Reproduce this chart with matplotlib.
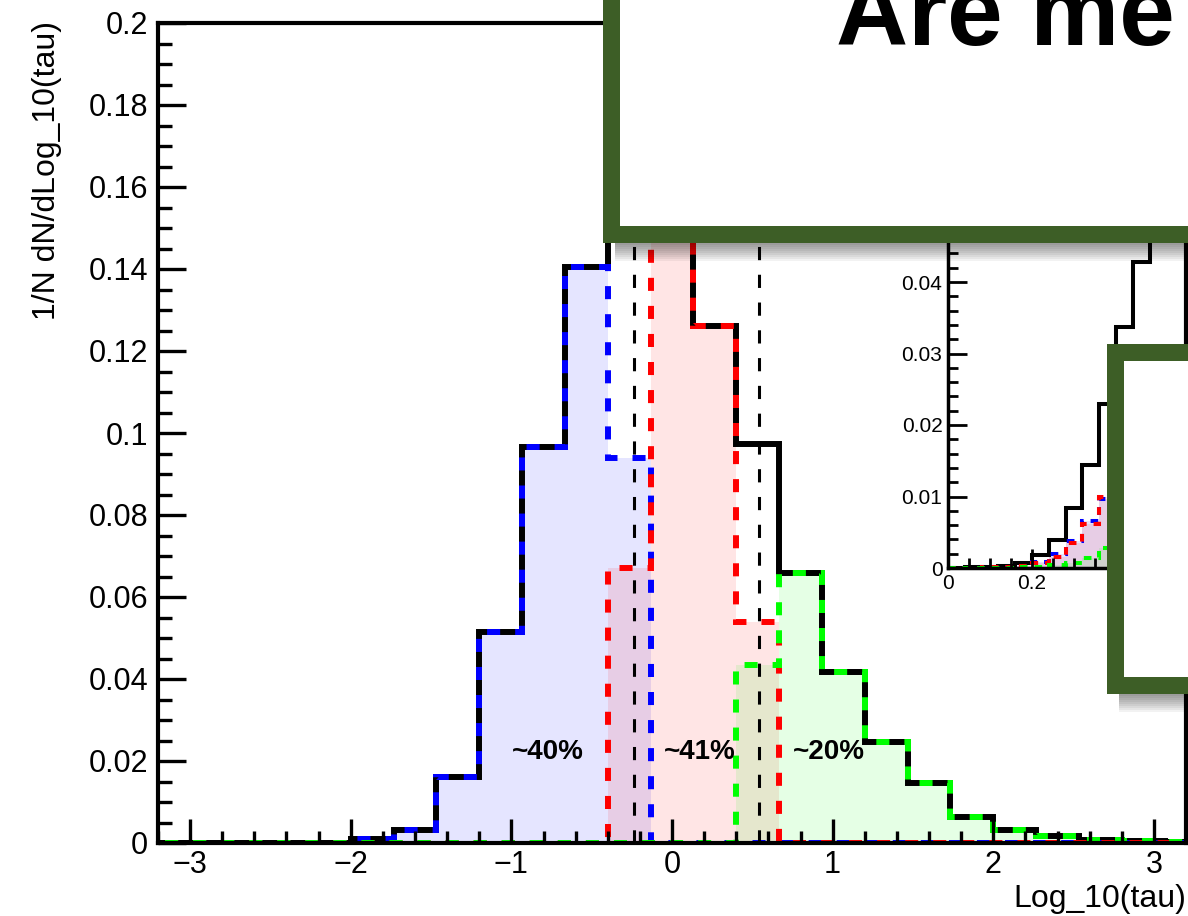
import numpy as np
import matplotlib
matplotlib.use("Agg")
import matplotlib.pyplot as plt
from matplotlib.patches import Rectangle
from matplotlib.ticker import MultipleLocator, FuncFormatter

plt.rcParams['font.family'] = ['Liberation Sans', 'DejaVu Sans']
plt.rcParams['lines.scale_dashes'] = False

# main histogram, log10(tau), 25 bins of width 4/15
edges = np.linspace(-10 / 3, 10 / 3, 26)
all_h = [0, 0, 0, 0, 0, 0.001, 0.0032, 0.016, 0.0515, 0.0966, 0.1405, 0.161, 0.163,
         0.126, 0.0973, 0.0659, 0.0417, 0.0246, 0.0146, 0.0063, 0.0032, 0.0017, 0.0008,
         0.0004, 0.0003]
blue_h = [0, 0, 0, 0, 0, 0.001, 0.0032, 0.016, 0.0515, 0.0966, 0.1405, 0.094, 0,
          0, 0, 0, 0, 0, 0, 0, 0, 0, 0, 0, 0]
red_h = [0, 0, 0, 0, 0, 0, 0, 0, 0, 0, 0, 0.067, 0.163,
         0.126, 0.054, 0, 0, 0, 0, 0, 0, 0, 0, 0, 0]
green_h = [0, 0, 0, 0, 0, 0, 0, 0, 0, 0, 0, 0, 0,
           0, 0.0435, 0.0659, 0.0417, 0.0246, 0.0146, 0.0063, 0.0032, 0.0017, 0.0008,
           0.0004, 0.0003]
cuts = [-0.235, 0.54]
fractions = ["~40%", "~41%", "~20%"]
frac_x = [-0.772, 0.174, 0.978]

# inset histogram, 15 bins of width 0.04
ins_edges = np.linspace(0, 0.6, 16)
ins_all = [0, 0.0001, 0.0002, 0.0003, 0.0007, 0.0018, 0.0039, 0.0084, 0.0144, 0.023,
           0.0337, 0.0428, 0.052, 0.06, 0.066]
ins_blue = [0, 0, 0.0001, 0.0001, 0.0003, 0.0009, 0.002, 0.0038, 0.0066, 0.0097,
            0.014, 0.018, 0.022, 0.026, 0.029]
ins_red = [0, 0, 0.0001, 0.0002, 0.0003, 0.0007, 0.0015, 0.0035, 0.0062, 0.0099,
           0.015, 0.019, 0.023, 0.027, 0.029]
ins_green = [0, 0, 0, 0, 0.0001, 0.0002, 0.0004, 0.0007, 0.0014, 0.0028,
             0.0045, 0.006, 0.007, 0.008, 0.009]
ins_xticks = [0, 0.2]

W, H = 1188, 916
fig = plt.figure(figsize=(W / 100, H / 100), dpi=100)

def px_rect(x0, y0, x1, y1):
    # pixel box (top-left origin) -> figure fraction rect
    return [x0 / W, (H - y1) / H, (x1 - x0) / W, (y1 - y0) / H]

def fmt(v, pos):
    return "%g" % round(v, 4)

# ---- main plot
ax = fig.add_axes(px_rect(158, 23, 1186, 843))
for vals, col in [(blue_h, 'blue'), (red_h, 'red'), (green_h, 'lime')]:
    ax.stairs(vals, edges, fill=True, color=col, alpha=0.1, lw=0)
ax.stairs(all_h, edges, color='black', lw=4.3)
dash = (0, (9.4, 10.8))
ax.stairs(blue_h, edges, color='blue', lw=4.3, linestyle=dash)
ax.stairs(red_h, edges, color='red', lw=4.3, linestyle=dash)
ax.stairs(green_h, edges, color='lime', lw=4.3, linestyle=dash)
for c in cuts:
    ax.plot([c, c], [0, 0.2], color='black', lw=2.2, linestyle=(0, (9.5, 10.5)))
for t, x in zip(fractions, frac_x):
    ax.text(x, 0.0222, t, ha='center', va='center', fontsize=20, fontweight='bold')

ax.set_xlim(-3.2, 3.2)
ax.set_ylim(0, 0.2)
ax.xaxis.set_major_locator(MultipleLocator(1))
ax.xaxis.set_minor_locator(MultipleLocator(0.2))
ax.yaxis.set_major_locator(MultipleLocator(0.02))
ax.yaxis.set_minor_locator(MultipleLocator(0.005))
ax.yaxis.set_major_formatter(FuncFormatter(fmt))
ax.tick_params(which='both', direction='in', top=False, right=False, width=2.4,
               labelsize=22)
ax.tick_params(axis='y', which='major', length=20, pad=7)
ax.tick_params(axis='y', which='minor', length=10)
ax.tick_params(axis='x', which='major', length=17, pad=5)
ax.tick_params(axis='x', which='minor', length=8.5)
for s in ax.spines.values():
    s.set_linewidth(3)

# ---- inset (its right part sits under the second slide box)
ins = fig.add_axes(px_rect(948, 230, 1170, 568))
for vals, col in [(ins_blue, 'blue'), (ins_red, 'red'), (ins_green, 'lime')]:
    ins.stairs(vals, ins_edges, fill=True, color=col, alpha=0.1, lw=0)
ins.stairs(ins_all, ins_edges, color='black', lw=2.9)
idash = (0, (5.5, 5))
ins.stairs(ins_blue, ins_edges, color='blue', lw=2.9, linestyle=idash)
ins.stairs(ins_red, ins_edges, color='red', lw=2.9, linestyle=idash)
ins.stairs(ins_green, ins_edges, color='lime', lw=2.9, linestyle=idash)
ins.set_xlim(0, 222 / 420)
ins.set_ylim(0, 338 / 7150)
ins.set_xticks(ins_xticks)
ins.xaxis.set_minor_locator(MultipleLocator(0.05))
ins.yaxis.set_major_locator(MultipleLocator(0.01))
ins.yaxis.set_minor_locator(MultipleLocator(0.002))
ins.xaxis.set_major_formatter(FuncFormatter(fmt))
ins.yaxis.set_major_formatter(FuncFormatter(fmt))
ins.tick_params(which='both', direction='in', top=False, right=False, width=2,
                labelsize=15)
ins.tick_params(which='major', length=14, pad=4)
ins.tick_params(which='minor', length=7)
for s in ins.spines.values():
    s.set_linewidth(2.5)
ins.spines['right'].set_visible(False)
ins.spines['top'].set_visible(False)

# ---- slide overlay: title box and a second box
ov = fig.add_axes([0, 0, 1, 1], zorder=10)
ov.set_xlim(0, W)
ov.set_ylim(H, 0)
ov.axis('off')
ov.patch.set_alpha(0)

green = '#3d5e26'

def slide_box(x0, y0, x1, y1):
    bw = 17
    for k in range(1, 10):
        ov.add_patch(Rectangle((x0 + 4, y0), x1 - x0, y1 - y0 + bw / 2 + 2 * k,
                               facecolor='black', alpha=0.05, lw=0, zorder=1))
    r = Rectangle((x0, y0), x1 - x0, y1 - y0, facecolor='white', edgecolor=green,
                  lw=bw * 0.72, zorder=2, joinstyle='miter')
    ov.add_patch(r)

slide_box(611, -30, 1220, 234)
slide_box(1115, 352, 1220, 685)
ov.text(836, 45, "Are me", fontsize=72, fontweight='bold', ha='left', va='baseline',
        zorder=3)

ov.text(1186, 907, "Log_10(tau)", fontsize=23, ha='right', va='baseline')
ov.text(47, 21, "1/N dN/dLog_10(tau)", fontsize=23, rotation=90, ha='center', va='top')

fig.savefig("out.png", dpi=100)
